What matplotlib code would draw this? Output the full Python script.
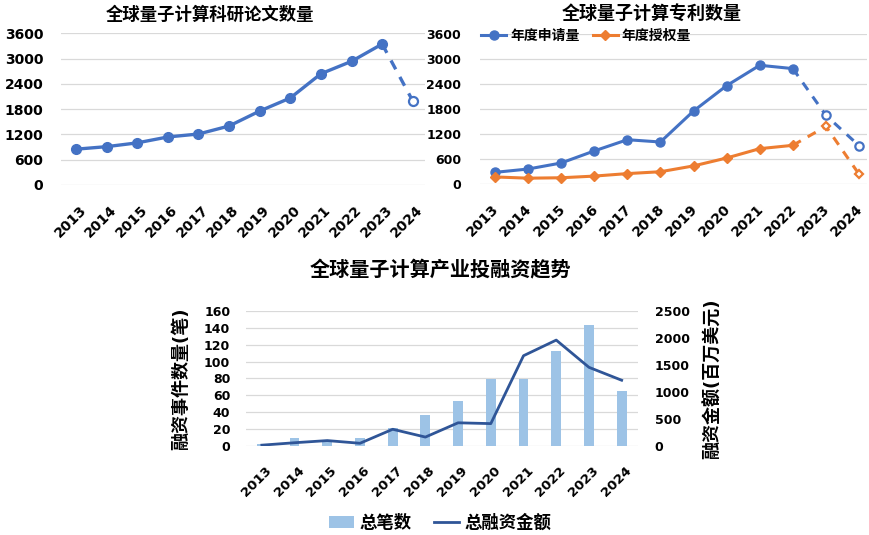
import numpy as np
import matplotlib
matplotlib.use('Agg')
import matplotlib.pyplot as plt
import matplotlib.transforms as mtransforms

plt.rcParams['font.family'] = ['DejaVu Sans', 'Noto Sans CJK SC']
plt.rcParams['font.weight'] = 'bold'
plt.rcParams['axes.unicode_minus'] = False

# 数据
years = [str(y) for y in range(2013, 2025)]
papers = [850, 910, 1000, 1140, 1210, 1400, 1755, 2065, 2640, 2935, 3345, 1995]
patent_apply = [280, 360, 505, 795, 1065, 1010, 1755, 2365, 2855, 2775, 1650, 920]
patent_grant = [170, 140, 150, 190, 250, 295, 435, 625, 850, 930, 1385, 235]
deal_count = [2, 9, 6, 9, 21, 36, 53, 79, 79, 112, 143, 65]
deal_amount = [10, 55, 95, 45, 305, 160, 425, 410, 1670, 1960, 1455, 1215]

BLUE = '#4472C4'
ORANGE = '#ED7D31'
BAR = '#9DC3E6'
DARK = '#2F5597'
GRID = '#D9D9D9'
W, H = 869, 535

fig = plt.figure(figsize=(W / 100, H / 100), dpi=100)


def box(left, top, right, bottom):
    """像素坐标 -> figure 坐标"""
    return [left / W, 1 - bottom / H, (right - left) / W, (bottom - top) / H]


def style_axes(ax, ysize, xsize, ypad, dx=3):
    for s in ax.spines.values():
        s.set_visible(False)
    ax.grid(axis='y', color=GRID, lw=0.9)
    ax.set_axisbelow(True)
    ax.tick_params(axis='both', length=0)
    ax.tick_params(axis='y', labelsize=ysize, pad=ypad)
    ax.tick_params(axis='x', labelsize=xsize, pad=13)
    x = np.arange(len(years))
    ax.set_xticks(x, years, rotation=45, ha='right', va='top',
                  rotation_mode='anchor')
    off = mtransforms.ScaledTranslation(dx / 100, 0, fig.dpi_scale_trans)
    for lbl in ax.get_xticklabels():
        lbl.set_transform(lbl.get_transform() + off)


def draw_series(ax, y, n_solid, color, marker, ms, lw, label=None):
    x = np.arange(len(y))
    y = np.asarray(y)
    ax.plot(x[n_solid - 1:], y[n_solid - 1:], color=color, lw=lw,
            ls=(0, (3, 2.6)), zorder=2)
    ax.plot(x[:n_solid], y[:n_solid], color=color, lw=lw, marker=marker,
            ms=ms, zorder=3, label=label)
    ax.plot(x[n_solid:], y[n_solid:], ls='none', marker=marker, ms=ms - 0.5,
            mfc='white', mec=color, mew=1.6, zorder=4)


# ---- 图1: 论文数量 ----
ax1 = fig.add_axes(box(60.7, 33.3, 425, 185))
style_axes(ax1, 10, 10, 12.5)
draw_series(ax1, papers, 11, BLUE, 'o', 7, 2.4)
ax1.set_ylim(0, 3600)
ax1.set_yticks(range(0, 3601, 600))
ax1.set_xlim(-0.5, 11.4)
fig.text(210 / W, 1 - 15 / H, '全球量子计算科研论文数量', ha='center',
         va='center', fontsize=12.5, fontweight='bold')

# ---- 图2: 专利数量 ----
ax2 = fig.add_axes(box(480, 34.3, 867, 184))
style_axes(ax2, 9, 10, 13.5, dx=-3)
draw_series(ax2, patent_apply, 10, BLUE, 'o', 6.5, 2.2, '年度申请量')
draw_series(ax2, patent_grant, 10, ORANGE, 'D', 5, 2.2, '年度授权量')
ax2.set_ylim(0, 3600)
ax2.set_yticks(range(0, 3601, 600))
ax2.set_xlim(-0.45, 11.24)
fig.text(652 / W, 1 - 15 / H, '全球量子计算专利数量', ha='center',
         va='center', fontsize=13, fontweight='bold')
ax2.legend(loc='center left', bbox_to_anchor=(481 / W, 1 - 36 / H),
           bbox_transform=fig.transFigure, ncol=2, frameon=False,
           fontsize=10, borderpad=0, borderaxespad=0, handlelength=1.8,
           handletextpad=0.3, columnspacing=0.95)

# ---- 图3: 投融资趋势 ----
ax3 = fig.add_axes(box(245.5, 311, 638, 445.7))
style_axes(ax3, 9, 9.5, 11)
x3 = np.arange(len(years))
ax3.bar(x3, deal_count, width=0.3, color=BAR, zorder=2, label='总笔数')
ax3.set_ylim(0, 160)
ax3.set_yticks(range(0, 161, 20))
ax3.set_xlim(-0.5, 11.5)
ax3.set_ylabel('融资事件数量(笔)', fontsize=13, fontweight='bold', labelpad=10)

ax3b = ax3.twinx()
for s in ax3b.spines.values():
    s.set_visible(False)
ax3b.plot(x3, deal_amount, color=DARK, lw=2, label='总融资金额', zorder=3)
ax3b.set_ylim(0, 2500)
ax3b.set_yticks(range(0, 2501, 500))
ax3b.tick_params(axis='y', length=0, labelsize=9, pad=12)
ax3b.set_ylabel('融资金额(百万美元)', fontsize=13, fontweight='bold',
                rotation=90, labelpad=10)

fig.text(440 / W, 1 - 270 / H, '全球量子计算产业投融资趋势', ha='center',
         va='center', fontsize=14.5, fontweight='bold')

h1, l1 = ax3.get_legend_handles_labels()
h2, l2 = ax3b.get_legend_handles_labels()
fig.legend(h1 + h2, l1 + l2, loc='center', bbox_to_anchor=(440 / W, 1 - 523 / H),
           ncol=2, frameon=False, fontsize=12.5, borderpad=0, handlelength=1.45,
           handletextpad=0.3, columnspacing=1.3)

fig.savefig('out.png', dpi=100)
